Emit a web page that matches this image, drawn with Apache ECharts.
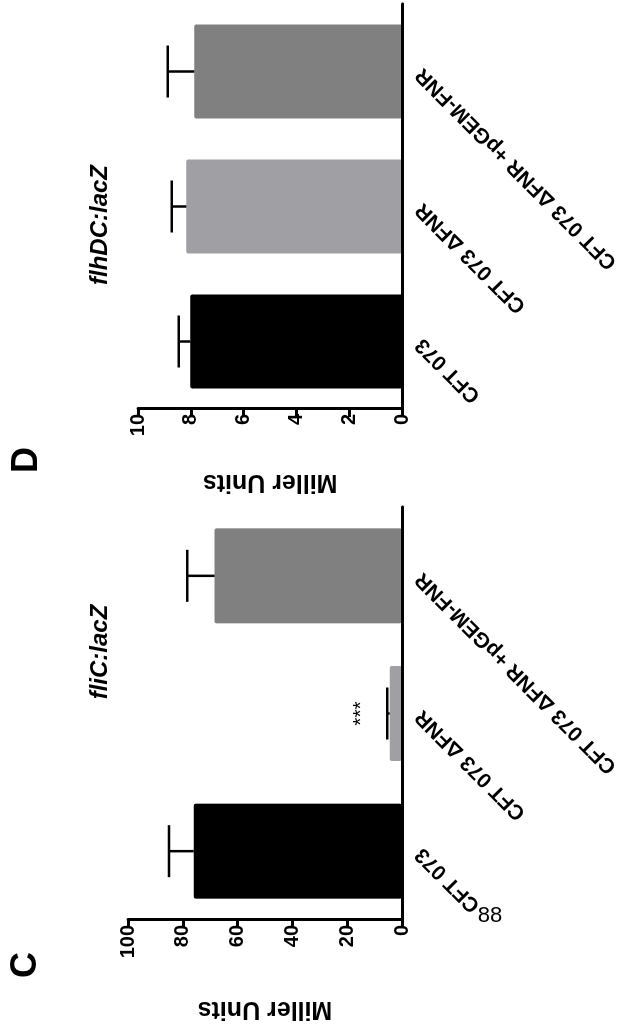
<!DOCTYPE html>
<html>
<head>
<meta charset="utf-8">
<script src="https://cdn.jsdelivr.net/npm/echarts@6/dist/echarts.min.js"></script>
<style>
  html, body { margin: 0; padding: 0; background: #fff; overflow: hidden; width: 623px; height: 1025px; }
  #rot { position: absolute; left: 0; top: 0; width: 1025px; height: 623px;
         transform-origin: 0 0; transform: translate(0px, 1025px) rotate(-90deg); }
</style>
</head>
<body>
<div id="rot"></div>
<script>
// ---- data ----
const categories = ['CFT 073', 'CFT 073 ΔFNR', 'CFT 073 ΔFNR +pGEM-FNR'];
const barColors = ['#000000', '#a0a0a4', '#808080'];
// Panel C: fliC:lacZ
const fliCMeans = [76, 4.5, 68.4];
const fliCErrors = [9, 0.9, 10];
const fliCTicks = { min: 0, max: 100, interval: 20 };
// Panel D: flhDC:lacZ
const flhDCMeans = [8.02, 8.17, 7.87];
const flhDCErrors = [0.44, 0.55, 1.0];
const flhDCTicks = { min: 0, max: 10, interval: 2 };
const yTitle = 'Miller Units';
const panelTitles = ['fliC:lacZ', 'flhDC:lacZ'];
const panelLetters = ['C', 'D'];
const sigMark = '***';
const pageNumber = '88';

const FONT = '"Liberation Sans", Arial, sans-serif';
const chart = echarts.init(document.getElementById('rot'), null, { renderer: 'canvas' });

function catAxis(grid) {
  return {
    type: 'category', gridIndex: grid, data: categories, z: 10,
    axisLine: { lineStyle: { color: '#000', width: 3 } },
    axisTick: { alignWithLabel: true, length: 7, lineStyle: { color: '#000', width: 3 } },
    axisLabel: { rotate: 45, margin: 17, color: '#000', fontSize: 21, fontWeight: 'bold', fontFamily: FONT },
    splitLine: { show: false }
  };
}
function valAxis(grid, t, gap) {
  return {
    type: 'value', gridIndex: grid, min: t.min, max: t.max, interval: t.interval, z: 10,
    axisLine: { show: true, lineStyle: { color: '#000', width: 3 } },
    axisTick: { show: true, length: 8, lineStyle: { color: '#000', width: 3 } },
    axisLabel: { margin: 5, color: '#000', fontSize: 20, fontWeight: 'bold', fontFamily: FONT },
    splitLine: { show: false },
    name: yTitle, nameLocation: 'middle', nameRotate: 90, nameGap: gap,
    nameTextStyle: { color: '#000', fontSize: 25, fontWeight: 'bold', fontFamily: FONT }
  };
}
function barData(means, withSig) {
  return means.map((v, i) => {
    const d = { value: v, itemStyle: { color: barColors[i], borderRadius: 2 } };
    if (withSig && i === 1) {
      d.label = { show: true, position: 'top', distance: 18, formatter: sigMark,
                  color: '#000', fontSize: 21, fontFamily: FONT };
    }
    return d;
  });
}
function errSeries(means, errs, ax) {
  return {
    type: 'custom', xAxisIndex: ax, yAxisIndex: ax, z: 5,
    data: means.map((m, i) => [i, m, m + errs[i]]),
    renderItem: function (params, api) {
      const p0 = api.coord([api.value(0), api.value(1)]);
      const p1 = api.coord([api.value(0), api.value(2)]);
      const half = 26;
      const st = { stroke: '#000', lineWidth: 2.5 };
      return { type: 'group', children: [
        { type: 'line', shape: { x1: p0[0], y1: p0[1], x2: p1[0], y2: p1[1] }, style: st },
        { type: 'line', shape: { x1: p1[0] - half, y1: p1[1], x2: p1[0] + half, y2: p1[1] }, style: st }
      ]};
    }
  };
}

chart.setOption({
  animation: false,
  backgroundColor: '#fff',
  grid: [
    { left: 105, top: 128, width: 413, height: 274 },
    { left: 616, top: 138, width: 405, height: 270 }
  ],
  xAxis: [catAxis(0), catAxis(1)],
  yAxis: [valAxis(0, fliCTicks, 76), valAxis(1, flhDCTicks, 60)],
  series: [
    { type: 'bar', xAxisIndex: 0, yAxisIndex: 0, barWidth: 95, data: barData(fliCMeans, true) },
    errSeries(fliCMeans, fliCErrors, 0),
    { type: 'bar', xAxisIndex: 1, yAxisIndex: 1, barWidth: 94, data: barData(flhDCMeans, false) },
    errSeries(flhDCMeans, flhDCErrors, 1)
  ],
  graphic: [
    { type: 'text', x: 373, y: 100, style: { text: panelTitles[0], fill: '#000', font: 'italic bold 24px ' + FONT, align: 'center', verticalAlign: 'middle' } },
    { type: 'text', x: 800, y: 100, style: { text: panelTitles[1], fill: '#000', font: 'italic bold 24px ' + FONT, align: 'center', verticalAlign: 'middle' } },
    { type: 'text', x: 60, y: 26, style: { text: panelLetters[0], fill: '#000', font: 'bold 36px ' + FONT, align: 'center', verticalAlign: 'middle' } },
    { type: 'text', x: 565, y: 27, style: { text: panelLetters[1], fill: '#000', font: 'bold 36px ' + FONT, align: 'center', verticalAlign: 'middle' } },
    { type: 'text', x: 109, y: 490, rotation: -Math.PI / 2, style: { text: pageNumber, fill: '#000', font: '22px ' + FONT, align: 'center', verticalAlign: 'middle' } }
  ]
});
</script>
</body>
</html>
